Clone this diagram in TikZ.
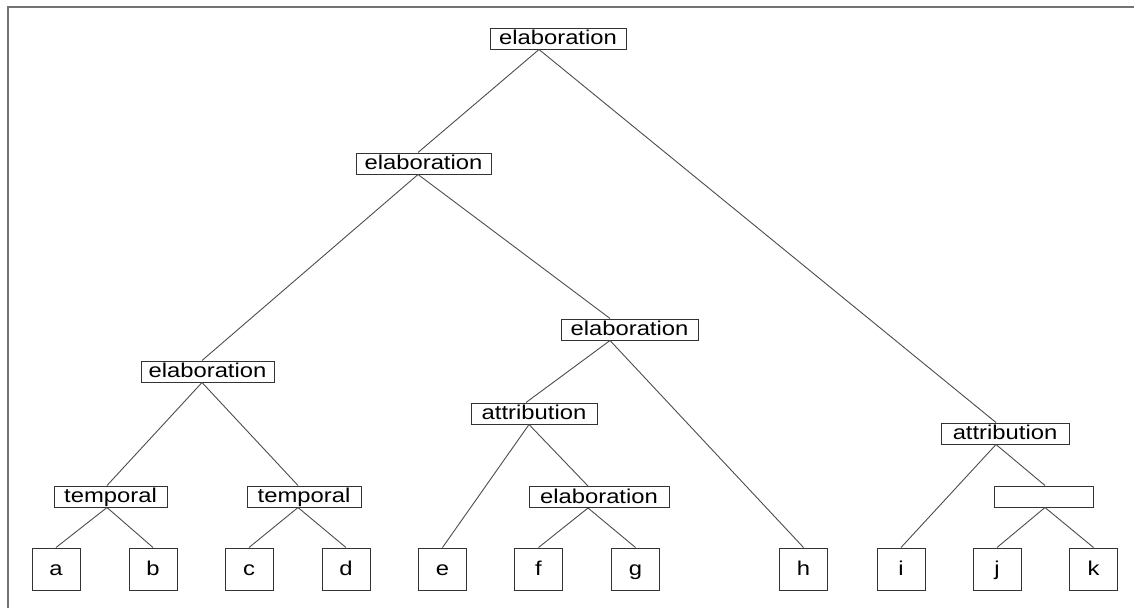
\documentclass[tikz,border=0pt]{standalone}
\usepackage{fontspec}
\setmainfont{Liberation Sans}
\newfontfamily\treefont[FakeStretch=1.19]{Liberation Sans}
\begin{document}
\begin{tikzpicture}[x=1pt,y=-1pt,
  rel/.style={draw=black!80,line width=1pt,inner xsep=0pt,inner ysep=0pt,
    text height=16.8pt,text depth=4.2pt,font=\treefont\fontsize{20}{24}\selectfont},
  leaf/.style={draw=black!80,line width=1pt,inner sep=0pt,minimum width=48pt,minimum height=42pt,
    text height=16.8pt,text depth=4.2pt,font=\treefont\fontsize{20}{24}\selectfont},
  edge/.style={draw=black!70,line width=0.9pt},
  frame/.style={draw=black!55,line width=2pt}]
\useasboundingbox (0,0) rectangle (1134,608);
\coordinate (fa) at (8,608);
\coordinate (fb) at (8,7);
\coordinate (fc) at (1134,7);
\draw[frame] (fa) -- (fb) -- (fc);
% relation nodes
\node[rel,minimum width=136pt] (R)  at (558,38.5)  {elaboration};
\node[rel,minimum width=135pt] (E2) at (423.5,163.5) {elaboration};
\node[rel,minimum width=133pt] (E3) at (207.5,371.5) {elaboration};
\node[rel,minimum width=137pt] (E4) at (629.5,329.5) {elaboration};
\node[rel,minimum width=126pt] (A1) at (534,413.5) {attribution};
\node[rel,minimum width=128pt] (A2) at (1005,433.5) {attribution};
\node[rel,minimum width=113pt] (T1) at (110.5,496.5) {temporal};
\node[rel,minimum width=114pt] (T2) at (304,496.5) {temporal};
\node[rel,minimum width=140pt] (E5) at (599,497) {elaboration};
\node[rel,minimum width=99pt]  (N)  at (1043.5,496.5) {};
% leaves
\node[leaf] (a) at (56,569) {a};
\node[leaf] (b) at (153,569) {b};
\node[leaf] (c) at (249,569) {c};
\node[leaf] (d) at (346,569) {d};
\node[leaf] (e) at (442.5,569) {e};
\node[leaf] (f) at (538.5,569) {f};
\node[leaf] (g) at (635.5,569) {g};
\node[leaf] (h) at (803.5,569) {h};
\node[leaf] (i) at (901,569) {i};
\node[leaf] (j) at (997,569) {j};
\node[leaf] (k) at (1093.5,569) {k};
% connectors
\draw[edge] ([xshift=-19pt]R.south) -- ([xshift=-5.5pt]E2.north);
\draw[edge] ([xshift=-19pt]R.south) -- ([xshift=-9pt]A2.north);
\draw[edge] ([xshift=-5.5pt]E2.south) -- ([xshift=-5.5pt]E3.north);
\draw[edge] ([xshift=-5.5pt]E2.south) -- ([xshift=-19.5pt]E4.north);
\draw[edge] ([xshift=-5.5pt]E3.south) -- ([xshift=-3.5pt]T1.north);
\draw[edge] ([xshift=-5.5pt]E3.south) -- ([xshift=-6pt]T2.north);
\draw[edge] ([xshift=-3.5pt]T1.south) -- (a.north);
\draw[edge] ([xshift=-3.5pt]T1.south) -- (b.north);
\draw[edge] ([xshift=-6pt]T2.south) -- (c.north);
\draw[edge] ([xshift=-6pt]T2.south) -- (d.north);
\draw[edge] ([xshift=-19.5pt]E4.south) -- ([xshift=-8pt]A1.north);
\draw[edge] ([xshift=-19.5pt]E4.south) -- (h.north);
\draw[edge] ([xshift=-5pt]A1.south) -- (e.north);
\draw[edge] ([xshift=-5pt]A1.south) -- ([xshift=-11pt]E5.north);
\draw[edge] ([xshift=-11pt]E5.south) -- (f.north);
\draw[edge] ([xshift=-11pt]E5.south) -- (g.north);
\draw[edge] ([xshift=-9pt]A2.south) -- (i.north);
\draw[edge] ([xshift=-9pt]A2.south) -- ([xshift=1.5pt]N.north);
\draw[edge] ([xshift=1.5pt]N.south) -- (j.north);
\draw[edge] ([xshift=1.5pt]N.south) -- (k.north);
\end{tikzpicture}
\end{document}
